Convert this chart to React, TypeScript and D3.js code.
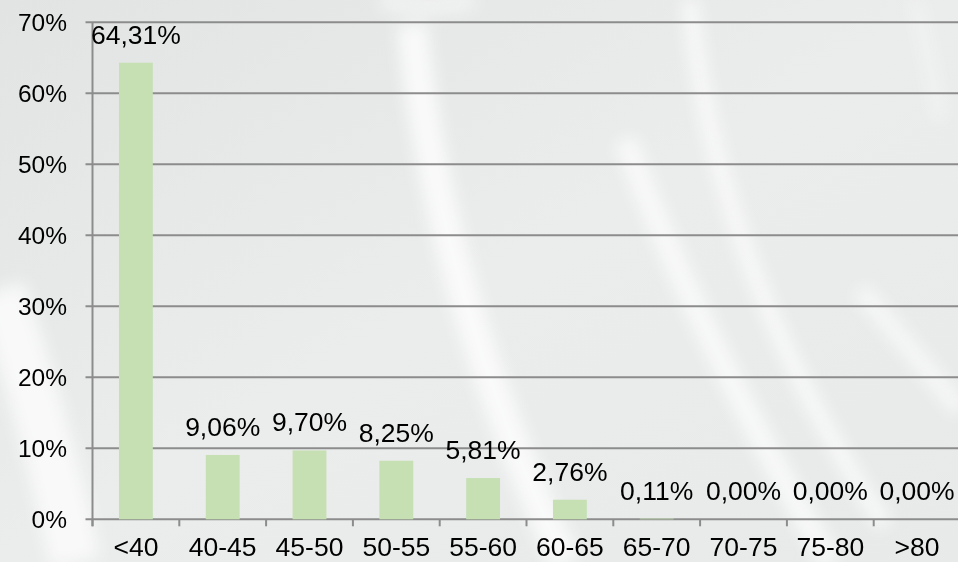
import React, { useEffect, useRef } from "react";
import * as d3 from "d3";

// age groups and share of records in each
const categories = ["<40", "40-45", "45-50", "50-55", "55-60", "60-65", "65-70", "70-75", "75-80", ">80"];
const shares = [64.31, 9.06, 9.7, 8.25, 5.81, 2.76, 0.11, 0.0, 0.0, 0.0];
const yTicks = [0, 10, 20, 30, 40, 50, 60, 70];

export default function App() {
  const ref = useRef<SVGSVGElement>(null);

  useEffect(() => {
    const svg = d3.select(ref.current);
    svg.selectAll("*").remove();

    const width = 958;
    const height = 562;
    const marginLeft = 92.5;
    const plotRight = 960.5;
    const top = 22.3;
    const bottom = 519.3;
    const font = "'Liberation Sans', Arial, sans-serif";

    // background: pale grey with soft white streaks
    const defs = svg.append("defs");
    const grad = defs
      .append("linearGradient")
      .attr("id", "bg")
      .attr("x1", 0)
      .attr("y1", 0)
      .attr("x2", 1)
      .attr("y2", 1);
    grad.append("stop").attr("offset", 0).attr("stop-color", "#e2e4e4");
    grad.append("stop").attr("offset", 0.5).attr("stop-color", "#ebecec");
    grad.append("stop").attr("offset", 1).attr("stop-color", "#e8eaea");
    defs
      .append("filter")
      .attr("id", "blur")
      .attr("x", "-20%")
      .attr("y", "-20%")
      .attr("width", "140%")
      .attr("height", "140%")
      .append("feGaussianBlur")
      .attr("stdDeviation", 8);

    svg.append("rect").attr("width", width).attr("height", height).attr("fill", "url(#bg)");

    const streaks = svg.append("g").attr("filter", "url(#blur)").attr("fill", "none");
    const streak = (d: string, w: number, o: number) =>
      streaks
        .append("path")
        .attr("d", d)
        .attr("stroke", "#fcfcfc")
        .attr("stroke-width", w)
        .attr("opacity", o);
    streak("M 412 25 Q 440 300 565 562", 30, 0.9);
    streak("M 625 140 Q 700 340 830 562", 22, 0.8);
    streak("M 690 0 Q 715 270 885 525", 16, 0.8);
    streak("M 860 290 Q 920 360 960 410", 18, 0.7);
    streak("M 0 290 Q 45 420 75 562", 50, 0.85);
    streak("M 915 0 Q 930 60 940 120", 10, 0.55);
    streak("M 380 0 Q 425 12 475 0", 18, 0.55);

    const x = d3
      .scaleBand()
      .domain(categories)
      .range([marginLeft, plotRight])
      .paddingInner(0.61)
      .paddingOuter(0.305);
    const xOuter = d3.scaleBand().domain(categories).range([marginLeft, plotRight]).padding(0);
    const y = d3.scaleLinear().domain([0, 70]).range([bottom, top]);

    // gridlines
    svg
      .append("g")
      .selectAll("line")
      .data(yTicks)
      .join("line")
      .attr("x1", marginLeft - 7)
      .attr("x2", width)
      .attr("y1", d => y(d))
      .attr("y2", d => y(d))
      .attr("stroke", "#8c8c8c")
      .attr("stroke-width", 2);

    // y tick labels
    svg
      .append("g")
      .selectAll("text")
      .data(yTicks)
      .join("text")
      .attr("x", 67)
      .attr("y", d => y(d) + 9)
      .attr("text-anchor", "end")
      .attr("font-family", font)
      .attr("font-size", 24.5)
      .attr("fill", "#000")
      .text(d => `${d}%`);

    // y axis line
    svg
      .append("line")
      .attr("x1", marginLeft)
      .attr("x2", marginLeft)
      .attr("y1", top)
      .attr("y2", bottom + 7)
      .attr("stroke", "#8c8c8c")
      .attr("stroke-width", 2);

    // x ticks at band boundaries
    svg
      .append("g")
      .selectAll("line")
      .data(categories)
      .join("line")
      .attr("x1", d => xOuter(d)!)
      .attr("x2", d => xOuter(d)!)
      .attr("y1", bottom)
      .attr("y2", bottom + 7)
      .attr("stroke", "#8c8c8c")
      .attr("stroke-width", 2);

    // bars
    svg
      .append("g")
      .attr("fill", "#c6e0b4")
      .selectAll("rect")
      .data(shares)
      .join("rect")
      .attr("x", (d, i) => x(categories[i])!)
      .attr("y", d => y(d))
      .attr("width", x.bandwidth())
      .attr("height", d => bottom - y(d));

    // value labels
    svg
      .append("g")
      .selectAll("text")
      .data(shares)
      .join("text")
      .attr("x", (d, i) => x(categories[i])! + x.bandwidth() / 2)
      .attr("y", d => y(d) - 19)
      .attr("text-anchor", "middle")
      .attr("font-family", font)
      .attr("font-size", 26.5)
      .attr("fill", "#000")
      .text(d => d.toFixed(2).replace(".", ",") + "%");

    // category labels
    svg
      .append("g")
      .selectAll("text")
      .data(categories)
      .join("text")
      .attr("x", d => x(d)! + x.bandwidth() / 2)
      .attr("y", 556)
      .attr("text-anchor", "middle")
      .attr("font-family", font)
      .attr("font-size", 26.5)
      .attr("fill", "#000")
      .text(d => d);
  }, []);

  return (
    <svg
      ref={ref}
      width={958}
      height={562}
      style={{ position: "absolute", left: 0, top: 0, display: "block" }}
    />
  );
}
